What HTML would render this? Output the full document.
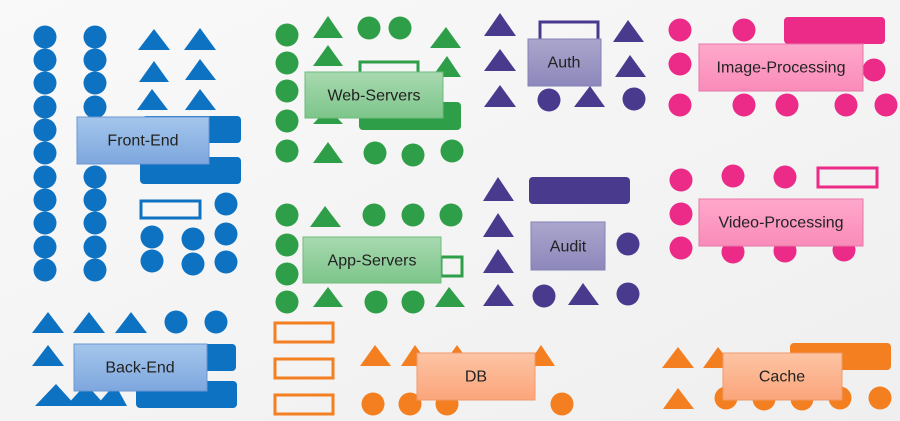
<!DOCTYPE html>
<html><head><meta charset="utf-8"><style>
html,body{margin:0;padding:0;width:900px;height:421px;overflow:hidden;background:#f6f6f6}
svg text{font-family:"Liberation Sans",sans-serif;font-size:16px;fill:#222;text-anchor:middle;dominant-baseline:central}
</style></head><body>
<svg width="900" height="421" viewBox="0 0 900 421" xmlns="http://www.w3.org/2000/svg">
<defs>
<linearGradient id="bg" x1="0" y1="0" x2="1" y2="1"><stop offset="0" stop-color="#f9f9f9"/><stop offset="1" stop-color="#efefef"/></linearGradient>
<linearGradient id="lb" x1="0" y1="0" x2="0" y2="1"><stop offset="0" stop-color="#a4c6ec"/><stop offset="1" stop-color="#7ea7de"/></linearGradient>
<linearGradient id="lg" x1="0" y1="0" x2="0" y2="1"><stop offset="0" stop-color="#a8d9b0"/><stop offset="1" stop-color="#7dc58a"/></linearGradient>
<linearGradient id="lp" x1="0" y1="0" x2="0" y2="1"><stop offset="0" stop-color="#aaa6cc"/><stop offset="1" stop-color="#8d88bb"/></linearGradient>
<linearGradient id="lk" x1="0" y1="0" x2="0" y2="1"><stop offset="0" stop-color="#ffa8cc"/><stop offset="1" stop-color="#f98bb8"/></linearGradient>
<linearGradient id="lo" x1="0" y1="0" x2="0" y2="1"><stop offset="0" stop-color="#fdc4a4"/><stop offset="1" stop-color="#fba57a"/></linearGradient>
</defs>
<rect width="900" height="421" fill="url(#bg)"/>

<!-- BLUE -->
<g fill="#0e72c3">
<g id="col">
<circle cx="45" cy="37" r="11.5"/><circle cx="45" cy="60" r="11.5"/><circle cx="45" cy="83" r="11.5"/><circle cx="45" cy="107" r="11.5"/><circle cx="45" cy="130" r="11.5"/><circle cx="45" cy="153" r="11.5"/><circle cx="45" cy="177" r="11.5"/><circle cx="45" cy="200" r="11.5"/><circle cx="45" cy="223" r="11.5"/><circle cx="45" cy="247" r="11.5"/><circle cx="45" cy="270" r="11.5"/>
</g>
<use href="#col" x="50"/>
<polygon points="138,50 154,29 170,50"/><polygon points="184,50 200,28 216,50"/>
<polygon points="139,82 154,61 169,82"/><polygon points="185,80 200,59 216,80"/>
<polygon points="137,110 152,89 168,110"/><polygon points="185,110 200,89 216,110"/>
<rect x="142" y="116" width="99" height="27" rx="4"/><rect x="140" y="157" width="101" height="27" rx="4"/>
<circle cx="226" cy="204" r="11.5"/><circle cx="152" cy="237" r="11.5"/><circle cx="193" cy="239" r="11.5"/><circle cx="226" cy="234" r="11.5"/><circle cx="152" cy="261" r="11.5"/><circle cx="193" cy="264" r="11.5"/><circle cx="226" cy="262" r="11.5"/>
<polygon points="32,333 48,312 64,333"/><polygon points="73,333 89,312 105,333"/><polygon points="115,333 131,312 147,333"/>
<circle cx="176" cy="322" r="11.5"/><circle cx="216" cy="322" r="11.5"/>
<polygon points="32,366 48,345 64,366"/>
<rect x="140" y="344" width="96" height="27" rx="4"/><rect x="136" y="381" width="101" height="27" rx="4"/>
<polygon points="35,406 56,384 76,406"/><polygon points="66,406 86,384 106,406"/><polygon points="96,406 115,384 127,406"/>
</g>
<rect x="141" y="201" width="59" height="17" fill="none" stroke="#0e72c3" stroke-width="3"/>
<rect x="77" y="117" width="132" height="47" fill="url(#lb)" stroke="#6b97d1"/><text x="143" y="141">Front-End</text>
<rect x="74" y="344" width="133" height="47" fill="url(#lb)" stroke="#6b97d1"/><text x="140" y="368">Back-End</text>

<!-- GREEN -->
<g fill="#2f9e48">
<circle cx="287" cy="35" r="11.5"/><circle cx="287" cy="63" r="11.5"/><circle cx="287" cy="91" r="11.5"/><circle cx="287" cy="121" r="11.5"/><circle cx="287" cy="151" r="11.5"/>
<polygon points="313,38 328,16 343,38"/><polygon points="313,66 328,45 343,66"/><polygon points="313,124 328,108 343,124"/><polygon points="313,163 328,142 343,163"/>
<circle cx="369" cy="28" r="11.5"/><circle cx="400" cy="28" r="11.5"/>
<polygon points="430,48 446,27 461,48"/><polygon points="432,77 447,56 461,77"/>
<rect x="359" y="102" width="102" height="28" rx="4"/>
<circle cx="375" cy="153" r="11.5"/><circle cx="413" cy="155" r="11.5"/><circle cx="452" cy="151" r="11.5"/>
<circle cx="287" cy="215" r="11.5"/><circle cx="287" cy="245" r="11.5"/><circle cx="287" cy="274" r="11.5"/><circle cx="287" cy="302" r="11.5"/>
<polygon points="310,227 325,206 341,227"/>
<circle cx="374" cy="215" r="11.5"/><circle cx="413" cy="215" r="11.5"/><circle cx="451" cy="215" r="11.5"/>
<polygon points="313,307 328,287 343,307"/><polygon points="435,307 449,287 465,307"/>
<circle cx="376" cy="302" r="11.5"/><circle cx="413" cy="302" r="11.5"/>
</g>
<rect x="360" y="62" width="58" height="14" fill="none" stroke="#2f9e48" stroke-width="3"/>
<rect x="441" y="257" width="21" height="19" fill="none" stroke="#2f9e48" stroke-width="3"/>
<rect x="305" y="72" width="138" height="46" fill="url(#lg)" stroke="#6fbb7e"/><text x="374" y="96">Web-Servers</text>
<rect x="303" y="237" width="138" height="46" fill="url(#lg)" stroke="#6fbb7e"/><text x="372" y="261">App-Servers</text>

<!-- PURPLE -->
<g fill="#4a3a8e">
<polygon points="484,36 500,13 516,36"/><polygon points="484,71 500,49 516,71"/><polygon points="484,107 500,85 516,107"/>
<polygon points="613,42 628,20 644,42"/><polygon points="615,77 630,55 646,77"/><polygon points="574,107 590,86 605,107"/>
<circle cx="549" cy="100" r="11.5"/><circle cx="634" cy="99" r="11.5"/>
<polygon points="483,201 498,177 514,201"/><polygon points="483,237 498,213 514,237"/><polygon points="483,273 498,249 514,273"/><polygon points="483,306 498,284 514,306"/><polygon points="568,305 583,283 599,305"/>
<rect x="529" y="177" width="101" height="27" rx="4"/>
<circle cx="628" cy="244" r="11.5"/><circle cx="544" cy="296" r="11.5"/><circle cx="628" cy="294" r="11.5"/>
</g>
<rect x="540" y="22" width="58" height="18" fill="none" stroke="#4a3a8e" stroke-width="3"/>
<rect x="528" y="39" width="73" height="47" fill="url(#lp)" stroke="#8580b6"/><text x="564" y="63">Auth</text>
<rect x="531" y="222" width="74" height="48" fill="url(#lp)" stroke="#8580b6"/><text x="568" y="247">Audit</text>

<!-- PINK -->
<g fill="#ec2a87">
<circle cx="680" cy="30" r="11.5"/><circle cx="744" cy="30" r="11.5"/><circle cx="680" cy="64" r="11.5"/><circle cx="874" cy="70" r="11.5"/>
<circle cx="680" cy="105" r="11.5"/><circle cx="744" cy="105" r="11.5"/><circle cx="787" cy="105" r="11.5"/><circle cx="846" cy="105" r="11.5"/><circle cx="886" cy="105" r="11.5"/>
<rect x="784" y="17" width="101" height="27" rx="4"/>
<circle cx="681" cy="180" r="11.5"/><circle cx="733" cy="176" r="11.5"/><circle cx="785" cy="177" r="11.5"/><circle cx="681" cy="214" r="11.5"/><circle cx="681" cy="248" r="11.5"/><circle cx="733" cy="252" r="11.5"/><circle cx="785" cy="251" r="11.5"/><circle cx="844" cy="250" r="11.5"/>
</g>
<rect x="818" y="168" width="59" height="19" fill="none" stroke="#ec2a87" stroke-width="3"/>
<rect x="699" y="44" width="164" height="47" fill="url(#lk)" stroke="#e577a8"/><text x="781" y="68">Image-Processing</text>
<rect x="699" y="199" width="164" height="47" fill="url(#lk)" stroke="#e577a8"/><text x="781" y="223">Video-Processing</text>

<!-- ORANGE -->
<rect x="275" y="323" width="58" height="19" fill="none" stroke="#f47f20" stroke-width="3"/>
<rect x="275" y="359" width="58" height="19" fill="none" stroke="#f47f20" stroke-width="3"/>
<rect x="275" y="395" width="58" height="19" fill="none" stroke="#f47f20" stroke-width="3"/>
<g fill="#f47f20">
<polygon points="360,366 375,345 391,366"/><polygon points="401,366 415,345 430,366"/><polygon points="442,366 457,345 472,366"/><polygon points="527,366 541,345 555,366"/>
<circle cx="373" cy="404" r="11.5"/><circle cx="410" cy="404" r="11.5"/><circle cx="447" cy="404" r="11.5"/><circle cx="562" cy="404" r="11.5"/>
<polygon points="662,368 678,347 694,368"/><polygon points="703,368 718,347 734,368"/><polygon points="663,409 678,388 694,409"/>
<rect x="790" y="343" width="101" height="27" rx="4"/>
<circle cx="726" cy="398" r="11.5"/><circle cx="764" cy="399" r="11.5"/><circle cx="802" cy="399" r="11.5"/><circle cx="840" cy="398" r="11.5"/><circle cx="880" cy="398" r="11.5"/>
</g>
<rect x="417" y="353" width="118" height="47" fill="url(#lo)" stroke="#f19a6a"/><text x="476" y="377">DB</text>
<rect x="723" y="353" width="119" height="47" fill="url(#lo)" stroke="#f19a6a"/><text x="782" y="377">Cache</text>
</svg>
</body></html>
